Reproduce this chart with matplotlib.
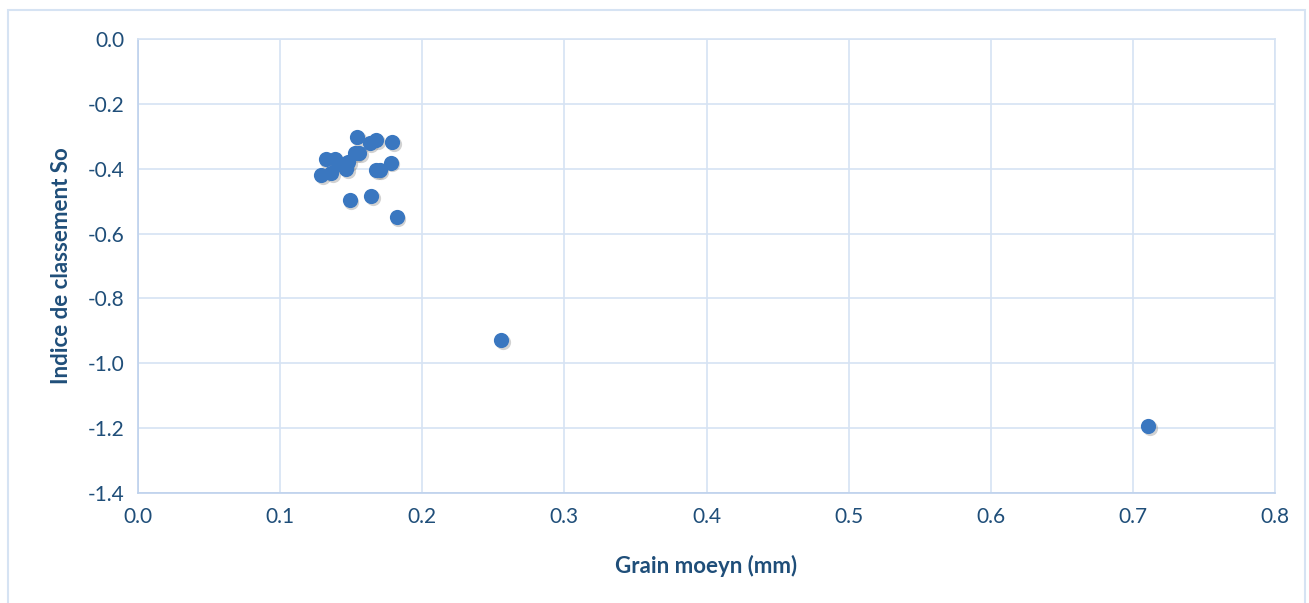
import numpy as np
import matplotlib.pyplot as plt
from matplotlib.patches import Rectangle

# grain size (mm) vs sorting index So
grain = [0.154, 0.1675, 0.163, 0.179, 0.132, 0.1386, 0.1527, 0.1557, 0.148,
         0.1464, 0.129, 0.136, 0.1778, 0.1675, 0.170, 0.149, 0.164, 0.182,
         0.142, 0.2555, 0.7107]
so = [-0.301, -0.311, -0.322, -0.317, -0.371, -0.371, -0.352, -0.352, -0.378,
      -0.402, -0.419, -0.414, -0.381, -0.404, -0.404, -0.496, -0.484, -0.548,
      -0.385, -0.928, -1.193]

text_c = '#1F4E79'
grid_c = '#D6E3F3'
dot_c = '#3A77C0'

plt.rcParams['font.family'] = ['Lato', 'DejaVu Sans']

fig = plt.figure(figsize=(13.09, 6.03), dpi=100)
ax = fig.add_axes([138 / 1309, 1 - 493 / 603, (1275 - 138) / 1309, (493 - 39) / 603])

# soft shadow under the markers
ax.scatter(np.array(grain) + 0.0012, np.array(so) - 0.006, s=120, color='#7f7f7f',
           alpha=0.35, linewidths=0, zorder=2)
ax.scatter(grain, so, s=120, color=dot_c, linewidths=0, zorder=3)

fmt = plt.FuncFormatter(lambda v, p: '%.1f' % (0.0 if abs(v) < 1e-9 else v))
ax.set_xlim(0, 0.8)
ax.set_ylim(-1.4, 0)
ax.set_xticks(np.arange(0, 0.81, 0.1))
ax.set_yticks(np.arange(-1.4, 0.01, 0.2))
ax.xaxis.set_major_formatter(fmt)
ax.yaxis.set_major_formatter(fmt)
ax.grid(True, color=grid_c, linewidth=1.2)
ax.set_axisbelow(True)
for sp in ax.spines.values():
    sp.set_color(grid_c)
    sp.set_linewidth(1.2)
ax.spines['left'].set_color('#BDD1EC')
ax.spines['bottom'].set_color('#BDD1EC')
ax.tick_params(length=0, colors=text_c, labelsize=15, pad=10)

ax.set_xlabel('Grain moeyn (mm)', color=text_c, fontsize=16, fontweight='bold', labelpad=20)
ax.set_ylabel('Indice de classement So', color=text_c, fontsize=16, fontweight='bold', labelpad=11)

fig.patches.append(Rectangle((8 / 1309, -0.01), 1 - 12 / 1309, 1 - 10 / 603 + 0.01,
                             transform=fig.transFigure, fill=False,
                             edgecolor=grid_c, linewidth=1.5))

fig.savefig('out.png', dpi=100)
